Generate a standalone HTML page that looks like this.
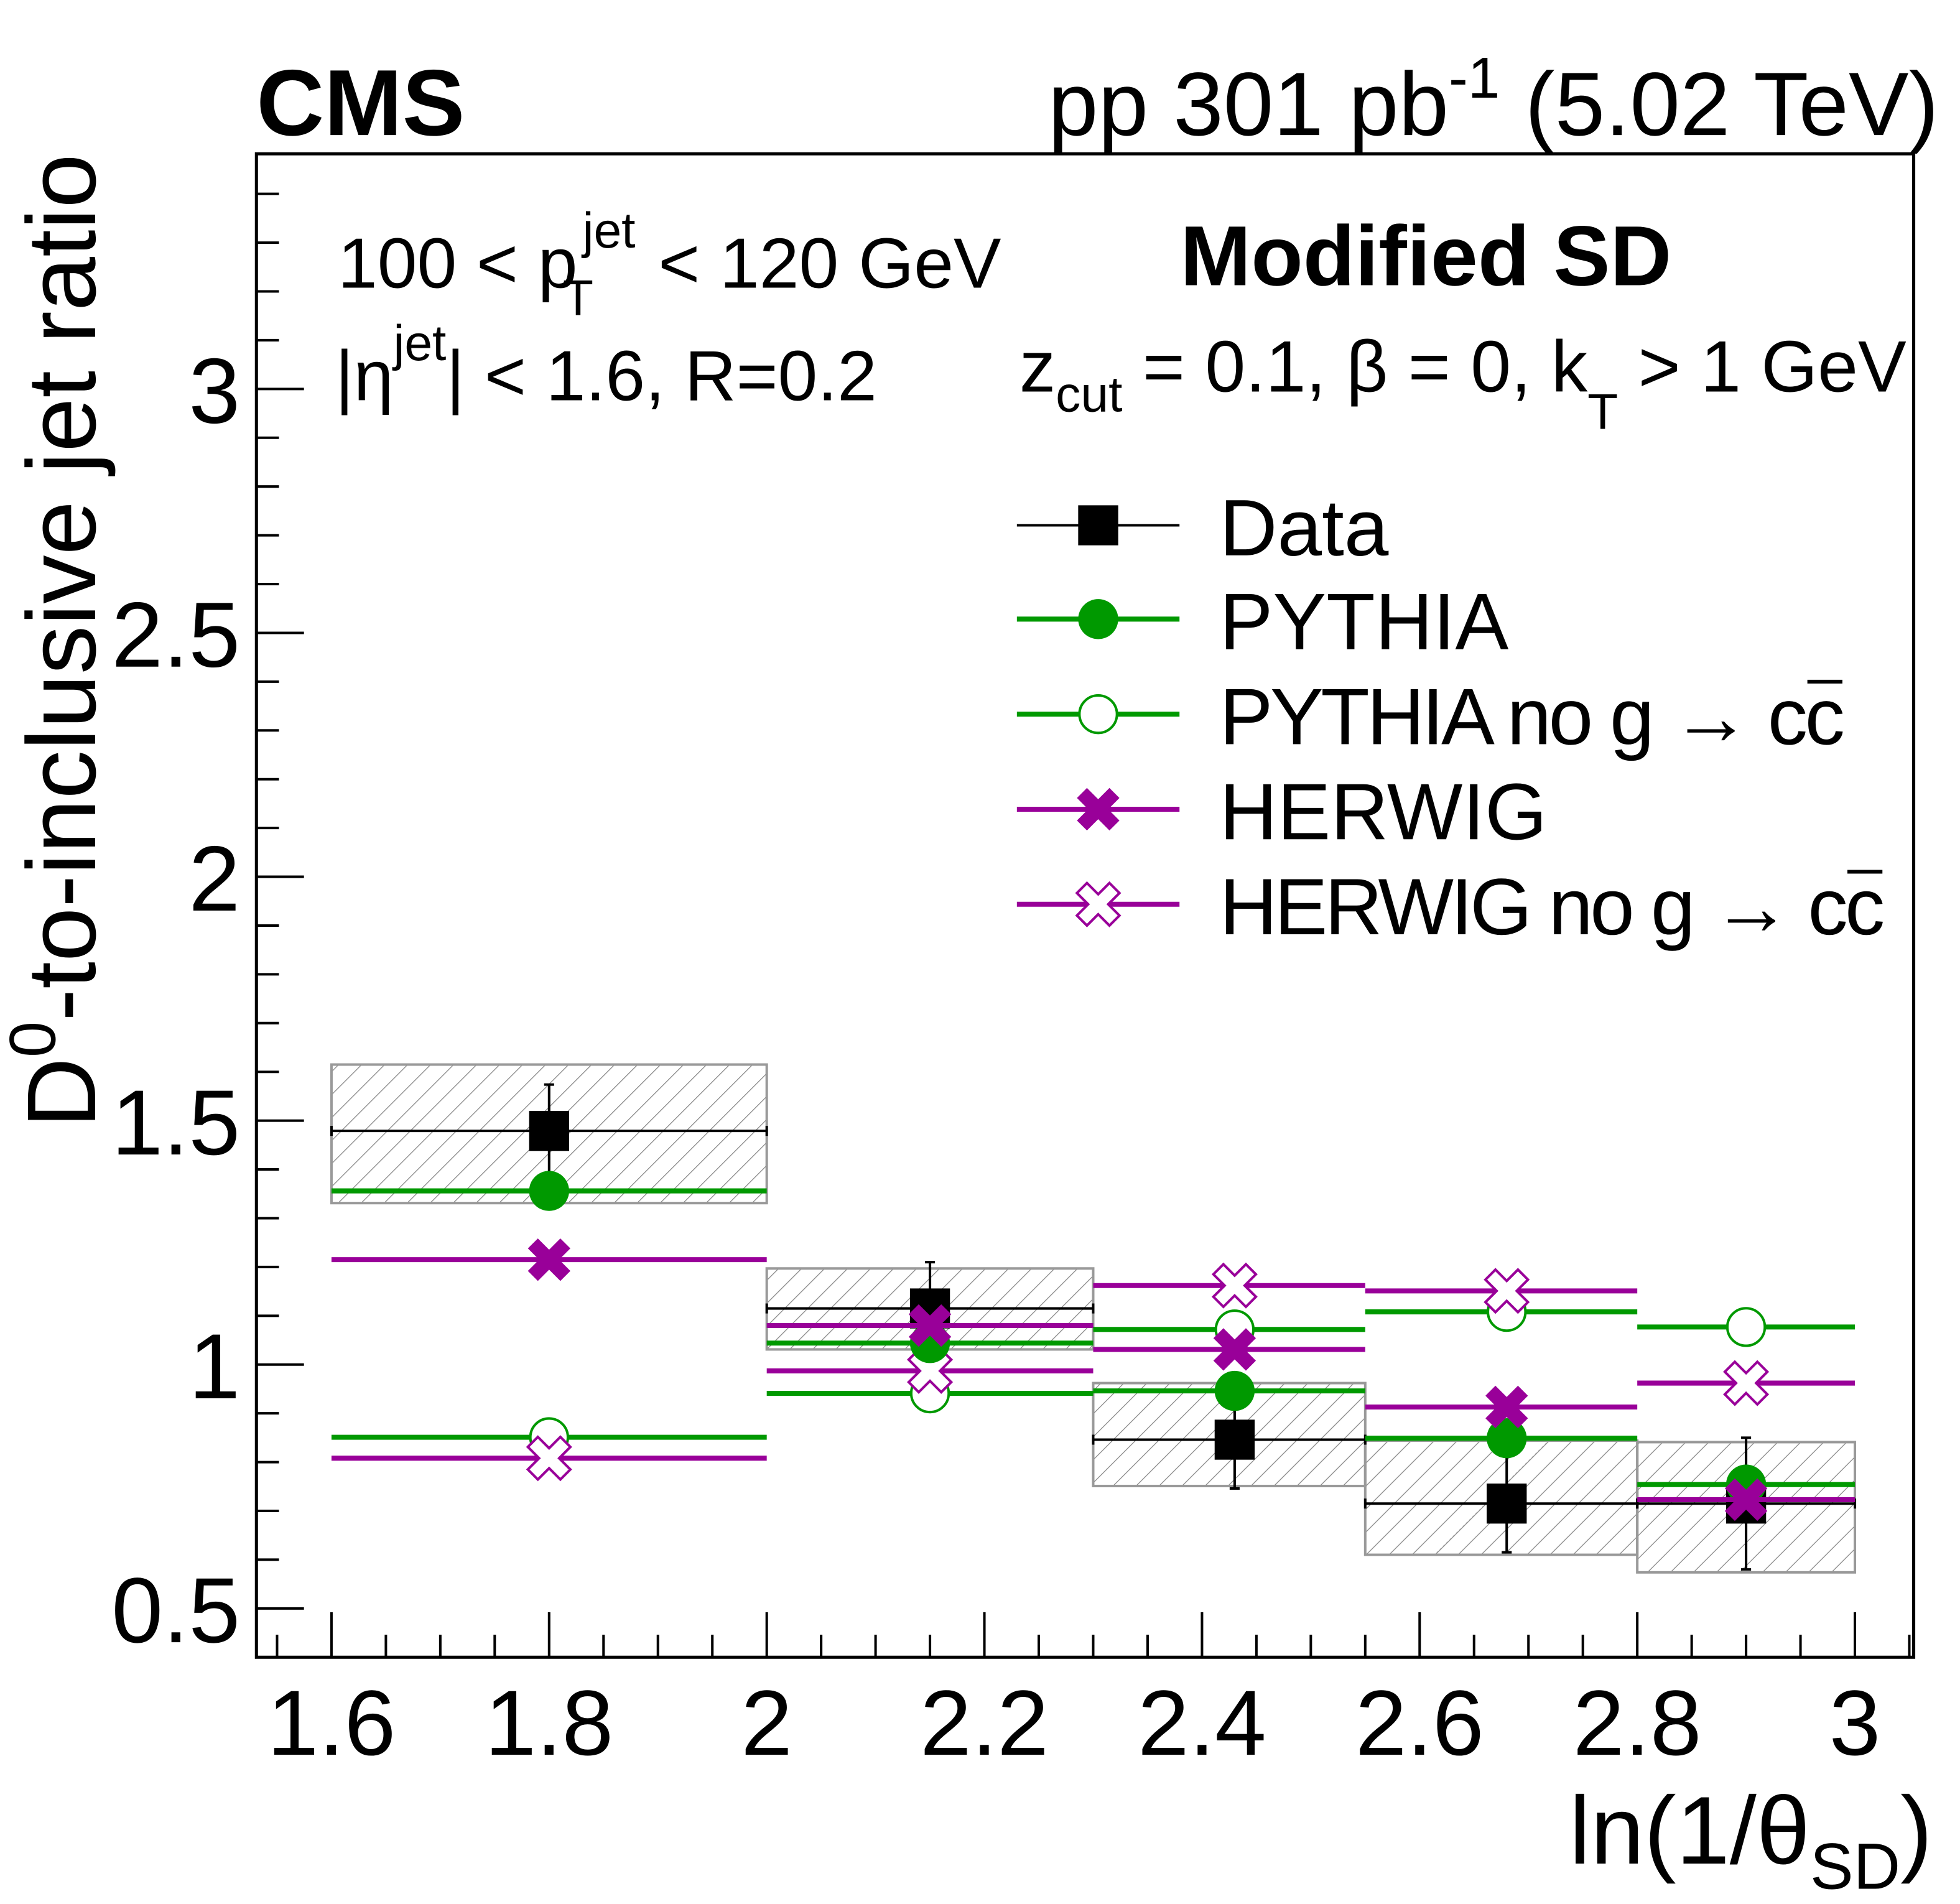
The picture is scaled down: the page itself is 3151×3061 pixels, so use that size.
<!DOCTYPE html>
<html><head><meta charset="utf-8">
<style>
html,body{margin:0;padding:0;background:#fff;}
svg{display:block;}
text{font-family:"Liberation Sans",Arial,sans-serif;fill:#000;}
</style></head>
<body>
<svg id="chart" xmlns="http://www.w3.org/2000/svg" width="3151" height="3061" viewBox="0 0 1567 1522.3">
<defs>
<pattern id="hatch" patternUnits="userSpaceOnUse" width="13" height="13" patternTransform="rotate(45)">
<line x1="0" y1="0" x2="0" y2="13" stroke="#888" stroke-width="1.3"/>
</pattern>
</defs>
<rect x="0" y="0" width="1567" height="1522.3" fill="#fff"/>
<g id="plot"></g>
<rect x="205" y="123" width="1325" height="1202" fill="none" stroke="#000" stroke-width="2.5"/>
<g id="axes"></g>
<text x="205" y="108" font-size="75" font-weight="bold">CMS</text>
<text x="1550" y="108" font-size="72" text-anchor="end">pp 301 pb<tspan dy="-30" font-size="46">-1</tspan><tspan dy="30"> (5.02 TeV)</tspan></text>
<text x="270" y="230" font-size="57">100 &lt; p<tspan dy="-32" dx="4" font-size="40">jet</tspan><tspan dx="-58" dy="54" font-size="40">T</tspan><tspan dx="36" dy="-22"> &lt; 120 GeV</tspan></text>
<text x="268" y="320" font-size="57">|η<tspan dy="-32" font-size="40">jet</tspan><tspan dy="32">| &lt; 1.6, R=0.2</tspan></text>
<text x="1140" y="228" font-size="68" font-weight="bold" text-anchor="middle">Modified SD</text>
<text x="815" y="313" font-size="58">z<tspan dy="16" font-size="40">cut</tspan><tspan dy="-16"> = 0.1, β = 0, k</tspan><tspan dy="30" font-size="40">T</tspan><tspan dy="-30"> &gt; 1 GeV</tspan></text>
<text x="1545" y="1490" font-size="77" text-anchor="end">ln(1/θ<tspan dy="20" font-size="52">SD</tspan><tspan dy="-20">)</tspan></text>
<text transform="translate(76,123) rotate(-90)" x="0" y="0" font-size="78" text-anchor="end">D<tspan dy="-32" font-size="52">0</tspan><tspan dy="32">-to-inclusive jet ratio</tspan></text>
<g id="legend"></g>
</svg>
<script>
// ---- data ----
const binLow = [1.6, 2.0, 2.3, 2.55, 2.8];
const binHigh = [2.0, 2.3, 2.55, 2.8, 3.0];
const binCenter = [1.8, 2.15, 2.43, 2.68, 2.9];
const dataVals = [1.479, 1.115, 0.846, 0.715, 0.715];
const dataStatErr = [0.095, 0.095, 0.10, 0.10, 0.135];
const systHigh = [1.615, 1.197, 0.962, 0.844, 0.841];
const systLow = [1.331, 1.031, 0.751, 0.610, 0.574];
const pythiaVals = [1.356, 1.044, 0.946, 0.849, 0.754];
const pythiaNoGVals = [0.851, 0.941, 1.072, 1.108, 1.077];
const herwigVals = [1.215, 1.080, 1.031, 0.913, 0.723];
const herwigNoGVals = [0.808, 0.987, 1.162, 1.151, 0.962];
const xTickLabels = ["1.6","1.8","2","2.2","2.4","2.6","2.8","3"];
const yTickLabels = ["0.5","1","1.5","2","2.5","3"];

const NS = "http://www.w3.org/2000/svg";
const X0 = 1.6, PX0 = 265, PXU = 870;
const Y0 = 0.5, PY0 = 1286, PYU = 390;
const xs = v => PX0 + (v - X0) * PXU;
const ys = v => PY0 - (v - Y0) * PYU;
const GREEN = "#009900", PURPLE = "#990099";

function el(tag, attrs, parent) {
  const e = document.createElementNS(NS, tag);
  for (const k in attrs) e.setAttribute(k, attrs[k]);
  parent.appendChild(e);
  return e;
}
const plot = document.getElementById("plot");
const axes = document.getElementById("axes");
const legend = document.getElementById("legend");

for (let i = 0; i < binLow.length; i++) {
  const r = el("rect", {x: xs(binLow[i]), y: ys(systHigh[i]), width: xs(binHigh[i]) - xs(binLow[i]), height: ys(systLow[i]) - ys(systHigh[i]), fill: "url(#hatch)", stroke: "#999", "stroke-width": 2}, plot);
  
  
}

function markerPath(type, cx, cy, color, g) {
  let m;
  if (type === "square") {
    m = el("rect", {x: cx - 16, y: cy - 16, width: 32, height: 32, fill: "#000"}, g);
  } else if (type === "circle") {
    m = el("circle", {cx: cx, cy: cy, r: 16, fill: color}, g);
  } else if (type === "ocircle") {
    m = el("circle", {cx: cx, cy: cy, r: 15, fill: "#fff", stroke: color, "stroke-width": 2}, g);
  } else {
    const a = 17, b = 8;
    const pts = [[-a,-a+b],[-a+b,-a],[0,-b],[a-b,-a],[a,-a+b],[b,0],[a,a-b],[a-b,a],[0,b],[-a+b,a],[-a,a-b],[-b,0]]
      .map(p => (cx + p[0]) + "," + (cy + p[1])).join(" ");
    m = type === "cross"
      ? el("polygon", {points: pts, fill: color}, g)
      : el("polygon", {points: pts, fill: "#fff", stroke: color, "stroke-width": 2}, g);
  }
  return m;
}

function drawModel(vals, color, type, name) {
  const g = el("g", {}, plot);
  
  
  for (let i = 0; i < vals.length; i++) {
    const l = el("line", {x1: xs(binLow[i]), x2: xs(binHigh[i]), y1: ys(vals[i]), y2: ys(vals[i]), stroke: color, "stroke-width": 4}, g);
    
    
    const m = markerPath(type, xs(binCenter[i]), ys(vals[i]), color, g);
    
    
  }
}

const dg = el("g", {}, plot);


for (let i = 0; i < dataVals.length; i++) {
  const y = ys(dataVals[i]);
  el("line", {x1: xs(binLow[i]), x2: xs(binHigh[i]), y1: y, y2: y, stroke: "#000", "stroke-width": 2}, dg);
  el("line", {x1: xs(binLow[i]), x2: xs(binLow[i]), y1: y - 4, y2: y + 4, stroke: "#000", "stroke-width": 2}, dg);
  el("line", {x1: xs(binHigh[i]), x2: xs(binHigh[i]), y1: y - 4, y2: y + 4, stroke: "#000", "stroke-width": 2}, dg);
  const cx = xs(binCenter[i]);
  const yt = ys(dataVals[i] + dataStatErr[i]), yb = ys(dataVals[i] - dataStatErr[i]);
  el("line", {x1: cx, x2: cx, y1: yt, y2: yb, stroke: "#000", "stroke-width": 2}, dg);
  el("line", {x1: cx - 4, x2: cx + 4, y1: yt, y2: yt, stroke: "#000", "stroke-width": 2}, dg);
  el("line", {x1: cx - 4, x2: cx + 4, y1: yb, y2: yb, stroke: "#000", "stroke-width": 2}, dg);
}
drawModel(pythiaNoGVals, GREEN, "ocircle", "pythia-no-g");
drawModel(herwigNoGVals, PURPLE, "ocross", "herwig-no-g");
for (let i = 0; i < dataVals.length; i++) {
  const m = markerPath("square", xs(binCenter[i]), ys(dataVals[i]), "#000", dg);
  
  
}
drawModel(pythiaVals, GREEN, "circle", "pythia");
drawModel(herwigVals, PURPLE, "cross", "herwig");

for (let k = 0; ; k++) {
  const v = 1.55 + k * 0.05;
  if (v > 3.06) break;
  const major = Math.abs((v - 1.6) / 0.2 - Math.round((v - 1.6) / 0.2)) < 1e-6;
  el("line", {x1: xs(v), x2: xs(v), y1: 1325, y2: 1325 - (major ? 36 : 18), stroke: "#000", "stroke-width": 2}, axes);
}
xTickLabels.forEach((s, i) => {
  const t = el("text", {x: xs(1.6 + 0.2 * i), y: 1403, "font-size": 74, "text-anchor": "middle"}, axes);
  t.textContent = s;
  
  
});
for (let k = 0; ; k++) {
  const v = 0.4 + k * 0.1;
  if (v > 3.49) break;
  if (v < 0.45) continue;
  const major = Math.abs(v * 2 - Math.round(v * 2)) < 1e-6;
  el("line", {x1: 205, x2: 205 + (major ? 38 : 18), y1: ys(v), y2: ys(v), stroke: "#000", "stroke-width": 2}, axes);
}
yTickLabels.forEach((s, i) => {
  const t = el("text", {x: 192, y: ys(0.5 + 0.5 * i) + 27, "font-size": 74, "text-anchor": "end"}, axes);
  t.textContent = s;
  
  
});

const legItems = [
  ["Data", "#000", "square", 2, "legend-data", 0],
  ["PYTHIA", GREEN, "circle", 4, "legend-pythia", 0],
  ["PYTHIA no g \u2192 cc", GREEN, "ocircle", 4, "legend-pythia-no-g", 500],
  ["HERWIG", PURPLE, "cross", 4, "legend-herwig", 0],
  ["HERWIG no g \u2192 cc", PURPLE, "ocross", 4, "legend-herwig-no-g", 532]
];
const legY = [420, 495, 571, 647, 723];
legItems.forEach((it, i) => {
  const g = el("g", {}, legend);
  
  
  el("line", {x1: 813, x2: 943, y1: legY[i], y2: legY[i], stroke: it[1], "stroke-width": it[3]}, g);
  markerPath(it[2], 878, legY[i], it[1], g);
  const attrs = {x: 975, y: legY[i] + 24, "font-size": 64};
  if (it[5]) { attrs.textLength = it[5]; attrs.lengthAdjust = "spacing"; }
  const t = el("text", attrs, g);
  t.textContent = it[0];
  if (it[5]) {
    const n = it[0].length;
    let s = 975 + it[5] - 30, e = 975 + it[5];
    try {
      s = t.getStartPositionOfChar(n - 1).x;
      e = t.getEndPositionOfChar(n - 1).x;
    } catch (err) {}
    const ob = el("line", {x1: s + 2, x2: e - 2, y1: legY[i] - 26, y2: legY[i] - 26, stroke: "#000", "stroke-width": 3}, g);
    
    
  }
});
</script>
</body></html>
